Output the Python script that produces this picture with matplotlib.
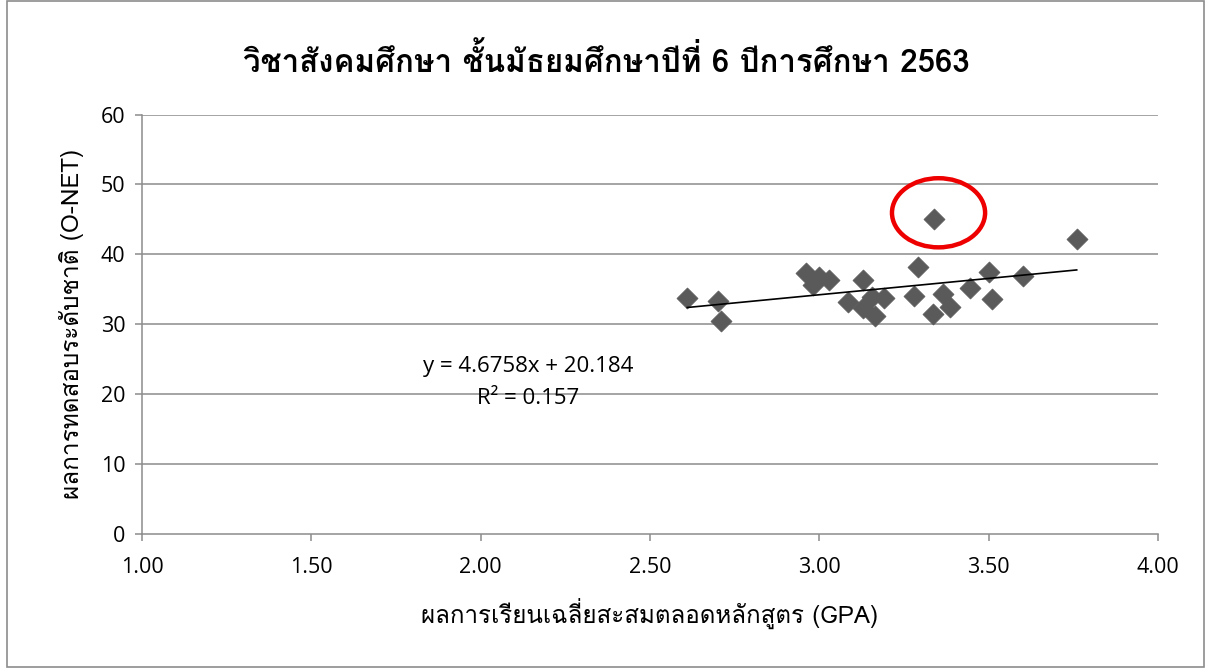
import matplotlib
matplotlib.use('Agg')
import matplotlib.pyplot as plt
from matplotlib.patches import Ellipse, Rectangle

# ---- data ----
gpa = [2.61, 2.70, 2.71, 2.96, 3.00, 2.98, 3.03, 3.13, 3.085, 3.13,
       3.155, 3.165, 3.19, 3.28, 3.29, 3.34, 3.76, 3.335, 3.365, 3.385,
       3.445, 3.50, 3.51, 3.60]
onet = [33.7, 33.3, 30.5, 37.3, 36.8, 35.6, 36.3, 36.3, 33.2, 32.3,
        33.9, 31.1, 33.7, 34.1, 38.2, 45.1, 42.2, 31.4, 34.3, 32.4,
        35.2, 37.5, 33.6, 36.9]
slope = 4.6758
intercept = 20.184
r2 = 0.157
outlier = (3.352, 45.95)

title = "วิชาสังคมศึกษา ชั้นมัธยมศึกษาปีที่ 6 ปีการศึกษา 2563"
xlabel = "ผลการเรียนเฉลี่ยสะสมตลอดหลักสูตร (GPA)"
ylabel = "ผลการทดสอบระดับชาติ (O-NET)"
xticks = [1.00, 1.50, 2.00, 2.50, 3.00, 3.50, 4.00]
yticks = [0, 10, 20, 30, 40, 50, 60]

thai_ui = ['Loma', 'Noto Sans Thai', 'DejaVu Sans']
thai_title = ['Loma', 'Noto Sans Thai Looped', 'DejaVu Sans']
latin = ['Open Sans', 'DejaVu Sans']

fig = plt.figure(figsize=(12.09, 6.69), dpi=100)
fig.patches.append(Rectangle((0.006, 0.003), 0.99, 0.995, transform=fig.transFigure,
                             fill=False, edgecolor='#8c8c8c', linewidth=1.2))
ax = fig.add_axes([0.1175, 0.2023, 0.8403, 0.6263])

grid_c = '#8c8c8c'
for y in yticks[1:]:
    ax.axhline(y, color=grid_c, linewidth=1.1, zorder=1)

ax.scatter(gpa, onet, marker='D', s=115, color='#5a5a5a', edgecolors='#5a5a5a',
           linewidths=0.5, zorder=3)

xmin, xmax = min(gpa), max(gpa)
ax.plot([xmin, xmax], [slope * xmin + intercept, slope * xmax + intercept],
        color='black', linewidth=1.2, zorder=4)

ax.add_patch(Ellipse(outlier, 0.275, 9.9, fill=False, edgecolor='#ee0000',
                     linewidth=3.2, zorder=5))

ax.text(2.14, 24.0, f"y = {slope}x + {intercept}", ha='center', va='center',
        fontsize=16, family=latin, zorder=6)
ax.text(2.14, 19.4, f"R² = {r2}", ha='center', va='center',
        fontsize=16, family=latin, zorder=6)

ax.set_xlim(1.0, 4.0)
ax.set_ylim(0, 60)
ax.set_xticks(xticks)
ax.set_xticklabels([f"{v:.2f}" for v in xticks], fontsize=15.5, family=latin)
ax.set_yticks(yticks)
ax.set_yticklabels([str(v) for v in yticks], fontsize=15.5, family=latin)

for s in ['top', 'right']:
    ax.spines[s].set_visible(False)
for s in ['left', 'bottom']:
    ax.spines[s].set_color(grid_c)
    ax.spines[s].set_linewidth(1.1)
ax.tick_params(axis='both', direction='out', length=5, width=1.1, color=grid_c,
               labelcolor='black')
ax.tick_params(axis='x', pad=12)
ax.tick_params(axis='y', pad=7)

ax.set_xlabel(xlabel, fontsize=17.4, family=thai_ui, labelpad=14)
ax.set_ylabel(ylabel, fontsize=17.5, family=thai_ui, labelpad=12)
fig.text(0.502, 0.91, title, ha='center', va='center', fontsize=22.5,
         fontweight='bold', family=thai_title)

fig.savefig('out.png', dpi=100)
